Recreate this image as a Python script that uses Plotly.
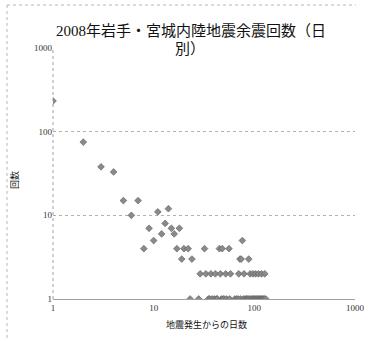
import plotly.graph_objects as go

# ---- data ----
days_a = [1, 2, 3, 4, 5, 6, 7, 8, 9, 10, 11, 12, 13, 14, 15, 16, 17, 18, 19, 20, 22]
counts_a = [233, 75, 38, 33, 15, 10, 15, 4, 7, 5, 11, 6, 8, 12, 7, 6, 4, 7, 3, 4, 4]

days_b = [24, 32, 45, 48, 56, 72, 74, 76, 88]
counts_b = [3, 4, 4, 4, 4, 3, 3, 5, 3]

days_two = [29, 33, 37, 41, 46, 52, 58, 70, 79, 91, 97, 103, 110, 118, 127]
counts_two = [2] * len(days_two)

days_one = [23, 28, 35, 36, 38, 40, 42, 43, 47, 49, 50, 53, 57,
            64, 67, 69, 73, 78, 81, 83, 85, 87, 90, 93, 95, 98, 100,
            102, 105, 107, 109, 112, 115, 117, 120, 123, 126, 130]
counts_one = [1] * len(days_one)

days = days_a + days_b + days_two + days_one
counts = counts_a + counts_b + counts_two + counts_one

x_ticks = [1, 10, 100, 1000]
x_tick_text = ["1", "10", "100", "1000"]
y_ticks = [1, 10, 100, 1000]
y_tick_text = ["1", "10", "100", "1000"]

title_line1 = "2008年岩手・宮城内陸地震余震回数（日"
title_line2 = "別）"
x_title = "地震発生からの日数"
y_title = "回数"

SERIF = "Liberation Serif, DejaVu Serif, Noto Sans CJK JP, serif"

W, H = 373, 341
L, R, T, B = 53, 18, 48, 42
pw, ph = W - L - R, H - T - B

def px(x):
    return (x - L) / pw

def py(y):
    return (H - B - y) / ph

fig = go.Figure()
fig.add_trace(go.Scatter(
    x=days, y=counts, mode="markers",
    marker=dict(symbol="diamond", size=5.2, color="#8a8a8a",
                line=dict(color="#5a5a5a", width=0.6)),
    showlegend=False, hoverinfo="x+y",
))

fig.update_layout(
    width=W, height=H,
    margin=dict(l=L, r=R, t=T, b=B),
    paper_bgcolor="white", plot_bgcolor="white",
    font=dict(family=SERIF, size=9, color="#222222"),
    xaxis=dict(type="log", range=[0, 3], tickvals=x_ticks, ticktext=x_tick_text,
               showgrid=False, showline=True, linecolor="#a0a0a0", linewidth=1,
               ticks="", ticklen=0, zeroline=False, automargin=False,
               tickfont=dict(family=SERIF, size=9, color="#333333")),
    yaxis=dict(type="log", range=[0, 3], tickvals=y_ticks, ticktext=y_tick_text,
               showgrid=True, gridcolor="#b0b0b0", gridwidth=1, griddash="dot",
               showline=False, ticks="", zeroline=False, automargin=False,
               tickfont=dict(family=SERIF, size=9, color="#333333")),
    annotations=[
        dict(text=title_line1, xref="paper", yref="paper",
             x=px(191), y=py(31), xanchor="center", yanchor="middle",
             showarrow=False, font=dict(family=SERIF, size=15, color="#111111")),
        dict(text=title_line2, xref="paper", yref="paper",
             x=px(190), y=py(49), xanchor="center", yanchor="middle",
             showarrow=False, bgcolor="white", borderpad=0,
             font=dict(family=SERIF, size=15, color="#111111")),
        dict(text=x_title, xref="paper", yref="paper",
             x=px(206), y=py(324), xanchor="center", yanchor="middle",
             showarrow=False, font=dict(family=SERIF, size=9, color="#111111")),
        dict(text=y_title, xref="paper", yref="paper",
             x=px(14), y=py(180), xanchor="center", yanchor="middle",
             textangle=-90, showarrow=False,
             font=dict(family=SERIF, size=9, color="#111111")),
    ],
    shapes=[
        dict(type="line", xref="paper", yref="paper", layer="below",
             x0=0, x1=0, y0=0, y1=1,
             line=dict(color="#a0a0a0", width=1, dash="dot")),
        dict(type="line", xref="paper", yref="paper",
             x0=px(7), x1=px(356), y0=py(5), y1=py(5),
             line=dict(color="#b8b8b8", width=1, dash="dot")),
        dict(type="line", xref="paper", yref="paper",
             x0=px(7), x1=px(7), y0=py(5), y1=py(340),
             line=dict(color="#b8b8b8", width=1, dash="dot")),
    ],
)

fig.write_html("out.html",
               config={"displayModeBar": False},
               post_script="document.body.style.margin='0px';document.body.style.overflow='hidden';")
